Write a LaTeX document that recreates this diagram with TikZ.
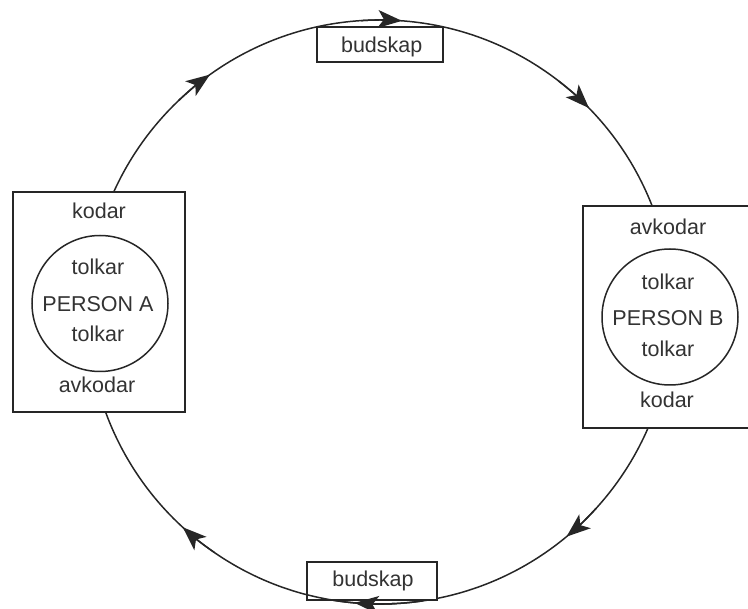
\documentclass[tikz,border=0pt]{standalone}
\usepackage{fontspec}
\setmainfont{Liberation Sans}
\usetikzlibrary{arrows.meta,calc}
\begin{document}
\begin{tikzpicture}[x=1pt,y=-1pt,
  line width=1.5pt,
  color=black!85,
  lbl/.style={font=\fontsize{21.5}{24}\selectfont, inner sep=0pt, anchor=base, text=black!80},
  tipline/.style={-{Stealth[length=24pt,width=18pt,inset=6pt]}},
  msgbox/.style={draw, fill=white, line width=1.6pt, inner sep=0pt},
  person/.style={circle, draw, line width=1.5pt, inner sep=0pt, minimum size=136pt},
]
\useasboundingbox (0,0) rectangle (748,609);
\coordinate (O) at (380,312);
\draw (O) circle[radius=292];

% flow arrows (clockwise)
\foreach \a in {-125.6,-85.7,-44.3,50.3,132.5}{
  \draw[tipline] ($(O)+(\a-8:292)$) arc[start angle=\a-8, end angle=\a, radius=292];
}

% person A box
\node[msgbox, minimum width=172pt, minimum height=220pt] (boxA) at (99,302) {};
\node[person] (pA) at (100,303.5) {};
\node[lbl] (kA) at (99,218.3) {kodar};
\node[lbl] (tA1) at (98,275) {tolkar};
\node[lbl] (nA) at (98,311.7) {PERSON A};
\node[lbl] (tA2) at (98,341.7) {tolkar};
\node[lbl] (aA) at (97,393) {avkodar};

% person B box (right side runs off the page)
\node[fill=white, inner sep=0pt, minimum width=164pt, minimum height=220pt] (boxB) at (666,317) {};
\draw[line width=1.6pt] (boxB.north east) -- (boxB.north west) -- (boxB.south west) -- (boxB.south east);
\node[person] (pB) at (670,317) {};
\node[lbl] (aB) at (668,235) {avkodar};
\node[lbl] (tB1) at (668,290) {tolkar};
\node[lbl] (nB) at (668,326) {PERSON B};
\node[lbl] (tB2) at (668,356.7) {tolkar};
\node[lbl] (kB) at (667,408) {kodar};

% message boxes
\node[msgbox, minimum width=126pt, minimum height=35pt] (m1) at (380,44.5) {};
\node[lbl] (m1t) at (381.7,53) {budskap};
\node[msgbox, minimum width=130pt, minimum height=38pt] (m2) at (372,581) {};
\node[lbl] (m2t) at (373,586.7) {budskap};
% circle passes along the lower edge of the bottom box
\draw ($(O)+(81.5:292)$) arc[start angle=81.5, end angle=104.5, radius=292];
\draw[tipline] ($(O)+(87:292)$) arc[start angle=87, end angle=95, radius=292];
\end{tikzpicture}
\end{document}
